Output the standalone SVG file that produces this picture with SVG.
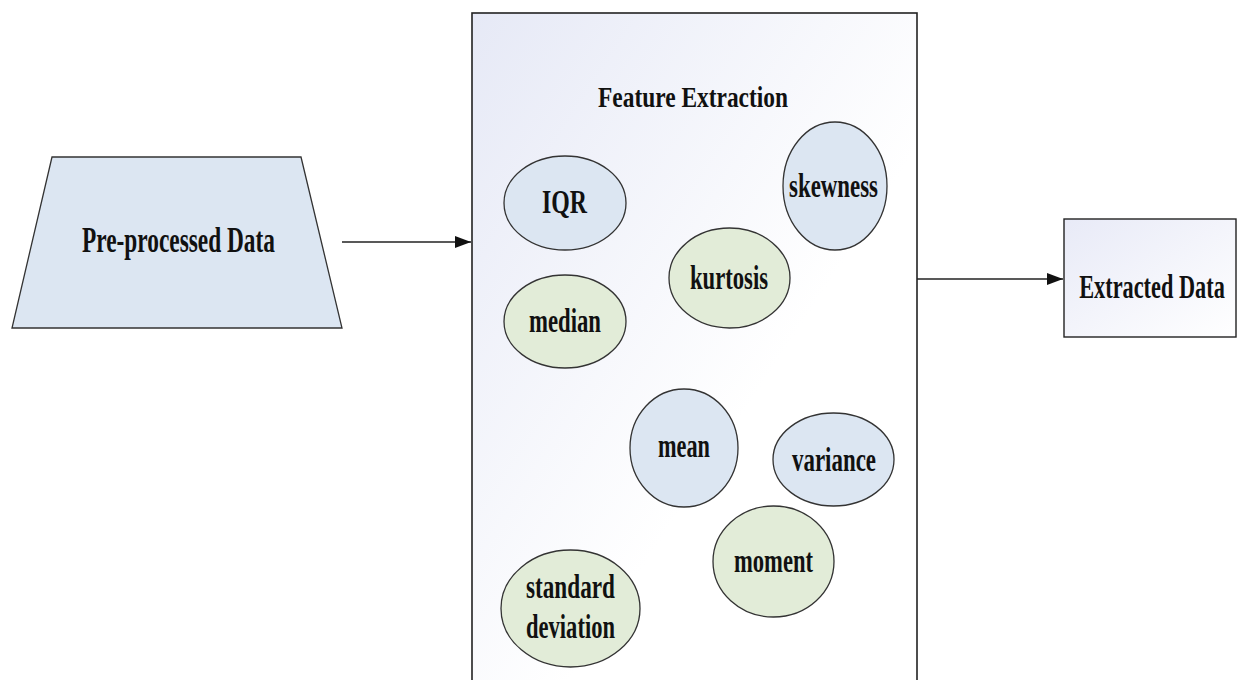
<svg xmlns="http://www.w3.org/2000/svg" width="1237" height="680" viewBox="0 0 1237 680">
<style>
.lbl{font-family:"Liberation Serif","Times New Roman",serif;font-weight:bold;fill:#111;text-anchor:middle}
.blue{fill:#dce6f2;stroke:#333;stroke-width:1.3}
.green{fill:#e2ecd8;stroke:#333;stroke-width:1.3}
.conn{stroke:#222;stroke-width:1.4;fill:none}
</style>
<defs>
<linearGradient id="g1" x1="0" y1="0" x2="1" y2="1">
<stop offset="0" stop-color="#e6e9f6"/>
<stop offset="0.6" stop-color="#ffffff"/>
<stop offset="1" stop-color="#ffffff"/>
</linearGradient>
<linearGradient id="g2" x1="0" y1="0" x2="1" y2="1">
<stop offset="0" stop-color="#e8eaf7"/>
<stop offset="1" stop-color="#ffffff"/>
</linearGradient>
<marker id="arr" markerWidth="16" markerHeight="12" refX="16" refY="6" orient="auto" markerUnits="userSpaceOnUse">
<path d="M0,0 L16,6 L0,12 Z" fill="#111"/>
</marker>
</defs>
<rect width="1237" height="680" fill="#ffffff"/>
<g id="preprocessed">
<polygon points="52,157 301,157 342,328 12,328" fill="#dce6f2" stroke="#333" stroke-width="1.3"/>
<text class="lbl" x="178.5" y="252" font-size="36" textLength="193" lengthAdjust="spacingAndGlyphs">Pre-processed Data</text>
</g>
<g id="feature-extraction">
<rect x="472" y="13" width="445" height="680" fill="url(#g1)" stroke="#222" stroke-width="1.6"/>
<text class="lbl" x="693" y="107" font-size="30" textLength="190" lengthAdjust="spacingAndGlyphs">Feature Extraction</text>
</g>
<g id="iqr">
<ellipse class="blue" cx="565" cy="203" rx="61" ry="47"/>
<text class="lbl" x="564.5" y="213" font-size="33" textLength="45" lengthAdjust="spacingAndGlyphs">IQR</text>
</g>
<g id="skewness">
<ellipse class="blue" cx="835" cy="186" rx="52" ry="64"/>
<text class="lbl" x="833.5" y="197" font-size="34" textLength="89" lengthAdjust="spacingAndGlyphs">skewness</text>
</g>
<g id="kurtosis">
<ellipse class="green" cx="729.5" cy="278" rx="60.5" ry="50"/>
<text class="lbl" x="729" y="289" font-size="34" textLength="78" lengthAdjust="spacingAndGlyphs">kurtosis</text>
</g>
<g id="median">
<ellipse class="green" cx="565" cy="321.5" rx="61" ry="46.5"/>
<text class="lbl" x="565" y="332" font-size="34" textLength="72" lengthAdjust="spacingAndGlyphs">median</text>
</g>
<g id="mean">
<ellipse class="blue" cx="684" cy="448" rx="54" ry="59"/>
<text class="lbl" x="684" y="457" font-size="34" textLength="52" lengthAdjust="spacingAndGlyphs">mean</text>
</g>
<g id="variance">
<ellipse class="blue" cx="833.5" cy="459.5" rx="60.5" ry="46.5"/>
<text class="lbl" x="834" y="471" font-size="34" textLength="84" lengthAdjust="spacingAndGlyphs">variance</text>
</g>
<g id="moment">
<ellipse class="green" cx="773.5" cy="561.5" rx="60.5" ry="55.5"/>
<text class="lbl" x="773.5" y="572" font-size="34" textLength="79" lengthAdjust="spacingAndGlyphs">moment</text>
</g>
<g id="standard-deviation">
<ellipse class="green" cx="570.5" cy="608.5" rx="69.5" ry="58.5"/>
<text class="lbl" x="570.5" y="598" font-size="34" textLength="89" lengthAdjust="spacingAndGlyphs">standard</text>
<text class="lbl" x="570.5" y="638" font-size="34" textLength="89" lengthAdjust="spacingAndGlyphs">deviation</text>
</g>
<g id="extracted">
<rect x="1064" y="219" width="172" height="118" fill="url(#g2)" stroke="#222" stroke-width="1.4"/>
<text class="lbl" transform="translate(1152,298) scale(0.7,1)" x="0" y="0" font-size="33" textLength="208" lengthAdjust="spacingAndGlyphs">Extracted Data</text>
</g>
<g id="connectors">
<line class="conn" x1="342" y1="242" x2="471" y2="242" marker-end="url(#arr)"/>
<line class="conn" x1="917" y1="279" x2="1063" y2="279" marker-end="url(#arr)"/>
</g>
</svg>
